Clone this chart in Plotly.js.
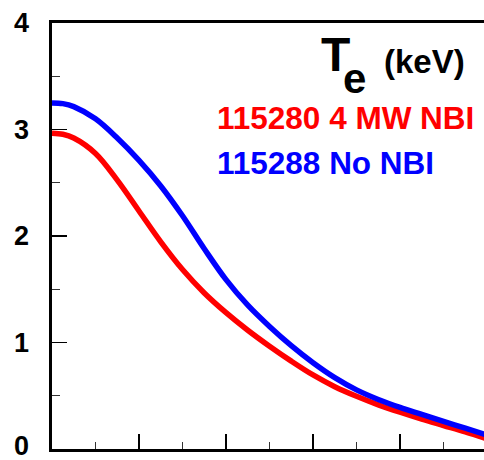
<!DOCTYPE html>
<html>
<head>
<meta charset="utf-8">
<script src="https://cdn.plot.ly/plotly-3.0.1.min.js"></script>
<style>html,body{margin:0;padding:0;background:#fff;}#chart{width:484px;height:460px;}</style>
</head>
<body>
<div id="chart"></div>
<script>
// normalized radius
const rho = [0, 0.025, 0.05, 0.10, 0.15, 0.20, 0.25, 0.30, 0.35, 0.40, 0.45, 0.50, 0.55, 0.60, 0.65, 0.70, 0.75, 0.80, 0.85, 0.90, 0.95, 1.00];
// 115280 4 MW NBI
const teNBI = [2.965, 2.955, 2.92, 2.775, 2.525, 2.235, 1.945, 1.685, 1.465, 1.28, 1.115, 0.965, 0.825, 0.695, 0.585, 0.495, 0.415, 0.345, 0.28, 0.22, 0.16, 0.095];
// 115288 No NBI
const teNoNBI = [3.25, 3.243, 3.215, 3.10, 2.92, 2.71, 2.47, 2.19, 1.88, 1.59, 1.35, 1.15, 0.97, 0.81, 0.67, 0.555, 0.465, 0.39, 0.325, 0.26, 0.195, 0.13];
const yTicks = [0, 1, 2, 3, 4];
const yTickText = ['0', '1', '2', '3', '4'];
const labelNBI = '115280 4 MW NBI';
const labelNoNBI = '115288 No NBI';

const W = 484, H = 460, L = 52, T = 23, R = 0, B = 11;
const pw = W - L - R, ph = H - T - B;
const px = x => (x - L) / pw;
const py = y => (H - B - y) / ph;
const FF = 'Liberation Sans, Arial, Helvetica, sans-serif';

const traces = [
  {x: rho, y: teNBI, mode: 'lines', line: {color: '#ff0000', width: 5.5, shape: 'spline', smoothing: 1}, hoverinfo: 'skip'},
  {x: rho, y: teNoNBI, mode: 'lines', line: {color: '#0000ff', width: 5.5, shape: 'spline', smoothing: 1}, hoverinfo: 'skip'}
];

const annotations = [
  {xref: 'paper', yref: 'paper', x: px(335), y: py(55), xanchor: 'center', yanchor: 'middle',
   text: '<b>T</b>', showarrow: false, font: {family: FF, size: 48, color: '#000'}},
  {xref: 'paper', yref: 'paper', x: px(354), y: py(78), xanchor: 'center', yanchor: 'middle',
   text: '<b>e</b>', showarrow: false, font: {family: FF, size: 42, color: '#000'}},
  {xref: 'paper', yref: 'paper', x: px(424), y: py(62), xanchor: 'center', yanchor: 'middle',
   text: '<b>(keV)</b>', showarrow: false, font: {family: FF, size: 33, color: '#000'}},
  {xref: 'paper', yref: 'paper', x: px(215), y: py(118), xanchor: 'left', yanchor: 'middle',
   text: '<b>' + labelNBI + '</b>', showarrow: false, font: {family: FF, size: 31.5, color: '#ff0000'}},
  {xref: 'paper', yref: 'paper', x: px(215), y: py(163), xanchor: 'left', yanchor: 'middle',
   text: '<b>' + labelNoNBI + '</b>', showarrow: false, font: {family: FF, size: 31.5, color: '#0000ff'}}
];
// y tick labels placed on the y scale
yTicks.forEach((v, i) => {
  annotations.push({xref: 'paper', yref: 'y', x: px(31), y: v, xanchor: 'right', yanchor: 'middle',
    yshift: v === 0 ? 3 : 0,
    text: '<b>' + yTickText[i] + '</b>', showarrow: false, font: {family: FF, size: 27, color: '#000'}});
});

const layout = {
  width: W, height: H,
  margin: {l: L, r: R, t: T, b: B, pad: 0},
  paper_bgcolor: '#fff', plot_bgcolor: '#fff',
  showlegend: false,
  xaxis: {
    range: [0, 0.993], showgrid: false, zeroline: false,
    showline: true, linecolor: '#000', linewidth: 3, mirror: true,
    ticks: 'inside', ticklen: 15, tickwidth: 1.5, tickcolor: '#000',
    dtick: 0.2, tick0: 0, showticklabels: false,
    minor: {dtick: 0.1, ticks: 'inside', ticklen: 7, tickwidth: 1.2, tickcolor: '#333'}
  },
  yaxis: {
    range: [0, 4], showgrid: false, zeroline: false,
    showline: true, linecolor: '#000', linewidth: 3,
    ticks: 'inside', ticklen: 15, tickwidth: 1.5, tickcolor: '#000',
    tickvals: yTicks, showticklabels: false,
    minor: {dtick: 0.5, ticks: 'inside', ticklen: 8, tickwidth: 1.2, tickcolor: '#333'}
  },
  annotations: annotations
};

Plotly.newPlot('chart', traces, layout, {displayModeBar: false, staticPlot: true});
</script>
</body>
</html>
